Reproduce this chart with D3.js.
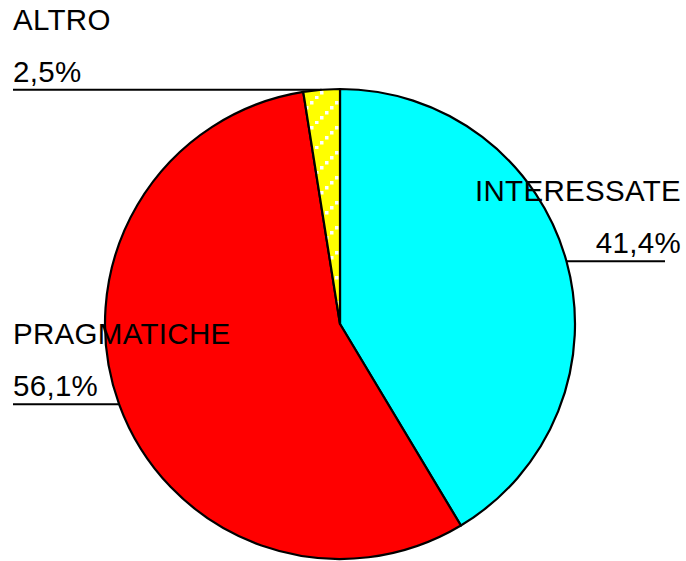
<!DOCTYPE html>
<html>
<head>
<meta charset="utf-8">
<script src="https://cdn.jsdelivr.net/npm/d3@7"></script>
<style>
    body { margin: 0; background: #fff; }
    svg { display: block; }
    text { font-family: "Liberation Sans", Arial, sans-serif; font-size: 29.5px; letter-spacing: 0.3px; fill: #000; }
</style>
</head>
<body>
<svg id="chart" width="686" height="561"></svg>
<script>
// data
var categories = ["INTERESSATE", "PRAGMATICHE", "ALTRO"];
var values = [41.4, 56.1, 2.5];
var colors = ["#00ffff", "#ff0000", "#ffff00"];

var cfg = {
    w: 686,
    h: 561,
    cx: 340,
    cy: 324,
    r: 235
};

var svg = d3.select("#chart");
var it = d3.formatLocale({decimal: ",", thousands: ".", grouping: [3], currency: ["", " €"]});
var fmt = it.format(".1f");

// yellow slice pattern: white dotted diagonals
var defs = svg.append("defs");
var pat = defs.append("pattern")
    .attr("id", "altro_pat")
    .attr("patternUnits", "userSpaceOnUse")
    .attr("width", 25)
    .attr("height", 25);
pat.append("rect").attr("width", 25).attr("height", 25).attr("fill", colors[2]);
d3.range(0, 25, 5).forEach(function (k) {
    pat.append("rect")
        .attr("x", k)
        .attr("y", 22 - k)
        .attr("width", 3.5)
        .attr("height", 3.5)
        .attr("fill", "#fff");
});

var pie = d3.pie().sort(null).value(function (d) { return d; });
var arcs = pie(values);

var arc = d3.arc().innerRadius(0).outerRadius(cfg.r);

var g = svg.append("g")
    .attr("transform", "translate(" + cfg.cx + "," + cfg.cy + ")");

g.selectAll(".slice")
    .data(arcs)
    .enter().append("path")
    .attr("class", "slice")
    .attr("d", arc)
    .attr("fill", function (d, i) {
        return i === 2 ? "url(#altro_pat)" : colors[i];
    })
    .attr("stroke", "#000")
    .attr("stroke-width", 2.2)
    .attr("stroke-linejoin", "round");

// labels with leader lines at the middle of each slice
var labelSide = ["right", "left", "left"];

arcs.forEach(function (d, i) {
    var a = (d.startAngle + d.endAngle) / 2;
    var px = cfg.cx + cfg.r * Math.sin(a),
        py = cfg.cy - cfg.r * Math.cos(a);
    var x1, x2, tx, anchor;
    if (labelSide[i] === "left") {
        x1 = 13; x2 = px; tx = 13; anchor = "start";
    } else {
        x1 = px; x2 = 665; tx = 681; anchor = "end";
    }
    svg.append("line")
        .attr("x1", x1).attr("x2", x2)
        .attr("y1", py).attr("y2", py)
        .attr("stroke", "#000")
        .attr("stroke-width", 2);
    svg.append("text")
        .attr("x", tx)
        .attr("y", py - 8)
        .attr("text-anchor", anchor)
        .text(fmt(values[i]) + "%");
    svg.append("text")
        .attr("x", tx)
        .attr("y", py - 60)
        .attr("text-anchor", anchor)
        .text(categories[i]);
});
</script>
</body>
</html>
